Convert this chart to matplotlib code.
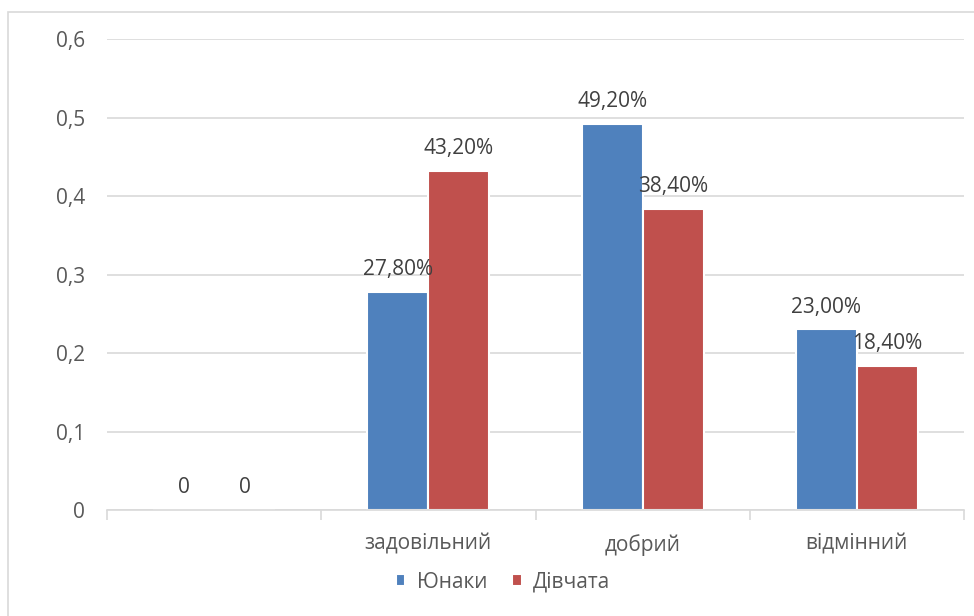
import numpy as np
import matplotlib.pyplot as plt
from matplotlib.patches import Rectangle

plt.rcParams['font.family'] = ['Open Sans', 'DejaVu Sans']

categories = ['', 'задовільний', 'добрий', 'відмінний']
boys = [0, 0.278, 0.492, 0.230]
girls = [0, 0.432, 0.384, 0.184]
boys_labels = ['0', '27,80%', '49,20%', '23,00%']
girls_labels = ['0', '43,20%', '38,40%', '18,40%']
yticks = [0, 0.1, 0.2, 0.3, 0.4, 0.5, 0.6]
ytick_labels = ['0', '0,1', '0,2', '0,3', '0,4', '0,5', '0,6']

blue = '#4F81BD'
red = '#C0504D'
grey = '#595959'
fs = 15

fig = plt.figure(figsize=(9.74, 6.16), dpi=100)
ax = fig.add_axes([0.1099, 0.172, 0.8798, 0.7647])

# chart border
fig.patches.append(Rectangle((8 / 974, -0.1), 1.1, 1 - 12 / 616 + 0.1,
                             transform=fig.transFigure, fill=False,
                             edgecolor='#D9D9D9', lw=1.2))

x = np.arange(len(categories))
w = 0.285
off = 0.1425
b1 = ax.bar(x - off, boys, w, color=blue, edgecolor='white', lw=1.5, label='Юнаки', zorder=2)
b2 = ax.bar(x + off, girls, w, color=red, edgecolor='white', lw=1.5, label='Дівчата', zorder=2)

for rect, lab in zip(b1, boys_labels):
    ax.text(rect.get_x() + rect.get_width() / 2, rect.get_height() + 0.015, lab,
            ha='center', va='bottom', fontsize=fs, color='#404040', zorder=4)
for rect, lab in zip(b2, girls_labels):
    ax.text(rect.get_x() + rect.get_width() / 2, rect.get_height() + 0.015, lab,
            ha='center', va='bottom', fontsize=fs, color='#404040', zorder=4)

ax.set_xlim(-0.5, 3.5)
ax.set_ylim(0, 0.6)
ax.set_yticks(yticks)
ax.set_yticklabels(ytick_labels)
ax.set_xticks(x)
ax.set_xticklabels(categories)
ax.set_xticks(np.arange(-0.5, 4, 1), minor=True)
ax.tick_params(axis='x', which='major', length=0, pad=17, labelsize=fs, labelcolor=grey)
ax.tick_params(axis='x', which='minor', length=7, color='#D9D9D9', width=1.2)
ax.tick_params(axis='y', length=0, pad=16, labelsize=fs, labelcolor=grey)

ax.grid(axis='y', color='#D9D9D9', lw=1.2, zorder=0)
ax.set_axisbelow(True)
for s in ['top', 'right', 'left']:
    ax.spines[s].set_visible(False)
ax.spines['bottom'].set_color('#D9D9D9')
ax.spines['bottom'].set_linewidth(1.2)
ax.spines['bottom'].set_zorder(3)

fig.legend(handles=[b1, b2], loc='center', bbox_to_anchor=(503 / 974, 1 - 582 / 616),
           ncol=2, frameon=False, fontsize=fs, labelcolor=grey,
           handlelength=0.45, handleheight=0.45, handletextpad=0.55, columnspacing=1.2)

fig.savefig('out.png', dpi=100)
